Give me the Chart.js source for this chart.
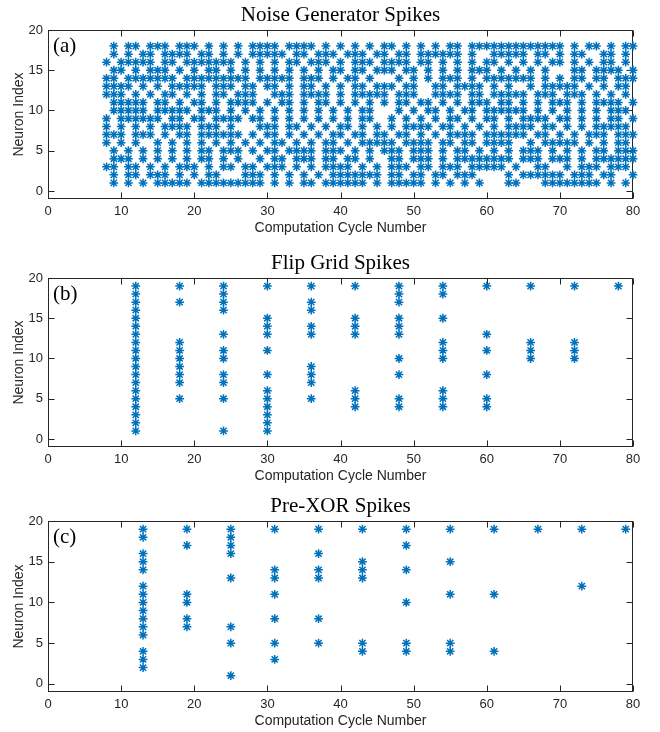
<!DOCTYPE html>
<html>
<head>
<meta charset="utf-8">
<script src="https://cdn.jsdelivr.net/npm/chart.js@4.4.1/dist/chart.umd.min.js"></script>
<style>
  body { margin: 0; background: #fff; }
  #wrap { position: relative; width: 660px; height: 732px; }
  canvas { position: absolute; left: 0; }
</style>
</head>
<body>
<div id="wrap">
  <canvas id="noiseChart" width="660" height="245" style="top:0px"></canvas>
  <canvas id="flipChart" width="660" height="245" style="top:248px"></canvas>
  <canvas id="xorChart" width="660" height="241" style="top:491px"></canvas>
</div>
<script>
// tick labels
var xTickValues = [0, 10, 20, 30, 40, 50, 60, 70, 80];
var yTickValues = [0, 5, 10, 15, 20];

// (a) noise generator: cycles where each neuron (1..18) spiked
var noiseCycles = [
  [9,11,13,15,16,17,18,19,21,22,23,24,25,26,27,28,29,31,33,35,36,38,39,40,41,42,43,45,47,48,49,50,51,53,55,57,59,63,64,68,69,70,71,72,73,74,75,77,79],
  [9,11,12,14,15,16,18,20,22,23,27,28,29,31,33,35,37,39,40,41,42,43,44,45,47,48,50,51,53,54,56,57,58,63,65,66,67,68,69,70,72,73,74,76,77,80],
  [8,9,11,12,14,16,18,19,20,22,24,25,27,28,30,31,32,34,36,38,39,40,41,43,45,47,48,49,51,52,54,55,56,58,59,60,61,62,64,67,68,71,73,74,75,77,78,79],
  [9,10,11,13,15,17,19,21,22,24,26,29,31,32,34,35,36,38,39,41,42,44,47,48,50,51,52,54,56,57,58,59,60,61,62,63,65,66,67,69,70,71,73,75,76,77,78,79,80],
  [9,11,13,15,17,19,21,22,24,25,26,28,30,31,33,34,35,36,38,39,40,42,44,46,47,48,50,51,52,54,56,57,59,61,63,65,66,67,69,71,73,75,76,78,79,80],
  [8,10,12,15,17,19,21,23,25,27,29,31,32,34,36,38,39,41,43,44,45,46,47,49,50,51,52,54,55,57,58,60,61,62,63,66,68,69,70,71,72,74,76,78,79],
  [8,9,10,12,13,14,16,18,19,21,22,23,24,25,26,28,30,31,33,35,37,39,40,42,43,45,46,48,49,51,53,55,56,57,58,60,61,62,63,64,65,67,68,70,72,74,75,76,78,79,80],
  [8,10,12,14,16,17,18,19,21,22,23,25,29,30,31,33,34,36,38,40,41,43,45,47,49,50,51,52,54,55,57,59,61,63,64,65,66,68,69,71,73,75,76,77,78,79],
  [8,10,11,12,13,14,15,17,18,20,21,23,24,25,26,28,29,31,33,35,37,39,41,43,44,47,49,51,53,55,56,58,60,61,63,65,66,67,68,70,71,73,75,77,78,80],
  [9,10,11,12,13,15,16,17,18,19,21,22,23,25,27,29,31,33,35,37,39,41,43,44,48,50,52,53,55,57,58,60,61,62,63,64,65,67,69,71,73,75,77,78,79],
  [9,10,11,12,13,15,16,18,20,21,23,25,26,27,28,30,32,33,35,37,38,40,42,44,46,48,49,51,52,54,56,58,59,60,62,63,65,67,69,70,71,73,75,76,77,78,80],
  [8,9,10,12,14,16,17,19,21,23,24,26,27,28,31,32,33,35,36,37,38,40,42,43,44,45,46,48,49,50,53,54,55,56,58,59,61,62,63,64,65,67,68,69,71,72,73,75,77,79],
  [8,9,10,11,13,15,17,18,19,20,21,23,24,25,27,28,30,31,33,35,36,38,40,42,43,45,46,47,49,50,53,54,56,57,58,59,61,63,66,68,69,70,71,72,74,76,78,79],
  [8,9,11,12,13,14,15,16,17,19,20,21,22,23,24,25,26,27,29,30,31,32,33,35,36,37,39,41,42,44,48,50,52,54,55,56,58,60,61,62,63,64,65,66,68,70,72,73,75,76,78,79,80],
  [9,10,12,14,15,16,18,20,22,23,25,27,29,31,33,35,37,39,40,42,43,45,46,47,49,50,52,54,56,58,59,60,62,64,66,68,72,73,75,76,77,78,80],
  [8,10,11,12,13,14,16,17,19,20,21,22,23,24,25,27,29,31,33,34,36,37,38,40,42,43,44,46,47,48,49,51,52,54,56,58,60,61,63,65,67,69,70,72,74,76,77,79],
  [9,11,13,14,16,17,18,19,21,22,24,26,28,29,30,31,32,34,35,37,38,39,41,42,43,45,46,48,49,51,52,53,54,55,56,58,61,62,63,64,65,67,68,70,72,73,76,77,79],
  [9,11,12,14,15,16,18,19,20,22,24,26,28,29,30,31,33,34,35,36,38,40,42,44,46,47,49,51,53,55,56,58,59,60,61,62,63,64,65,66,67,68,69,70,72,74,75,77,79,80]
];

// (b) flip grid: cycle columns and the neurons firing in each
var flipCycles = [12, 18, 24, 30, 36, 42, 48, 54, 60, 66, 72, 78];
var flipNeurons = [
  [1,2,3,4,5,6,7,8,9,10,11,12,13,14,15,16,17,18,19],
  [5,7,8,9,10,11,12,17,19],
  [1,5,7,8,10,11,13,16,17,18,19],
  [1,2,3,4,5,6,8,11,13,14,15,19],
  [5,7,8,9,13,14,16,17,19],
  [4,5,6,13,14,15,19],
  [4,5,8,10,13,14,15,17,18,19],
  [4,5,6,10,11,12,15,18,19],
  [4,5,8,11,13,19],
  [10,11,12,19],
  [10,11,12,19],
  [19]
];

// (c) pre-XOR
var xorCycles = [13, 19, 25, 31, 37, 43, 49, 55, 61, 67, 73, 79];
var xorNeurons = [
  [2,3,4,6,7,8,9,10,11,12,14,15,16,18,19],
  [7,8,10,11,17,19],
  [1,5,7,13,16,17,18,19],
  [3,5,8,11,13,14,19],
  [5,8,13,14,16,19],
  [4,5,13,14,15,19],
  [4,5,10,14,17,19],
  [4,5,11,15,19],
  [4,11,19],
  [19],
  [12,19],
  [19]
];

var noisePoints = [];
noiseCycles.forEach(function (cycles, i) {
  cycles.forEach(function (c) { noisePoints.push({x: c, y: i + 1}); });
});

function columnPoints(cycles, neurons) {
  var pts = [];
  cycles.forEach(function (c, i) {
    neurons[i].forEach(function (n) { pts.push({x: c, y: n}); });
  });
  return pts;
}

var axisColor = '#262626';

// box, inward ticks, title and panel letter (matlab look)
var panelPlugin = {
  id: 'panelText',
  beforeDatasetsDraw: function (chart) {
    var ctx = chart.ctx, a = chart.chartArea;
    var xs = chart.scales.x, ys = chart.scales.y;
    var L = Math.round(a.left) + 0.5, R = Math.round(a.right) - 0.5;
    var T = Math.round(a.top) + 0.5, B = Math.round(a.bottom) - 0.5;
    ctx.save();
    ctx.strokeStyle = axisColor;
    ctx.lineWidth = 1;
    ctx.strokeRect(L, T, R - L, B - T);
    ctx.beginPath();
    xTickValues.forEach(function (v) {
      var px = Math.round(xs.getPixelForValue(v)) + 0.5;
      ctx.moveTo(px, B); ctx.lineTo(px, B - 6);
      ctx.moveTo(px, T); ctx.lineTo(px, T + 6);
    });
    yTickValues.forEach(function (v) {
      var py = Math.round(ys.getPixelForValue(v)) + 0.5;
      ctx.moveTo(L, py); ctx.lineTo(L + 6, py);
      ctx.moveTo(R, py); ctx.lineTo(R - 6, py);
    });
    ctx.stroke();
    ctx.restore();
  },
  afterDraw: function (chart, args, opts) {
    var ctx = chart.ctx, a = chart.chartArea;
    ctx.save();
    ctx.fillStyle = '#000';
    ctx.font = '21px "Liberation Serif"';
    ctx.textBaseline = 'middle';
    ctx.textAlign = 'center';
    ctx.fillText(opts.title, (a.left + a.right) / 2, a.top - 15);
    ctx.textAlign = 'left';
    ctx.fillText(opts.tag, a.left + 5, a.top + 16);
    ctx.restore();
  }
};

function makeSpikeChart(id, title, tag, points, plotH) {
  var canvas = document.getElementById(id);
  return new Chart(canvas, {
    type: 'scatter',
    data: {
      datasets: [{
        data: points,
        pointStyle: 'star',
        pointRadius: 4.4,
        pointBorderWidth: 1.5,
        borderColor: '#0072BD',
        backgroundColor: '#0072BD',
        clip: false
      }]
    },
    options: {
      responsive: false,
      animation: false,
      devicePixelRatio: 1,
      events: [],
      layout: {
        padding: {top: 30, right: 27, left: 0, bottom: canvas.height - 30 - plotH - 38}
      },
      plugins: {
        legend: {display: false},
        tooltip: {enabled: false},
        panelText: {title: title, tag: tag}
      },
      scales: {
        x: {
          type: 'linear',
          min: 0,
          max: 80,
          grid: {display: false, drawTicks: false},
          border: {display: false},
          ticks: {color: axisColor, font: {family: 'Liberation Sans', size: 13}, padding: 5, maxRotation: 0},
          afterBuildTicks: function (s) { s.ticks = xTickValues.map(function (v) { return {value: v}; }); },
          afterFit: function (s) { s.height = 38; },
          title: {display: true, text: 'Computation Cycle Number', color: axisColor,
                  font: {family: 'Liberation Sans', size: 14}, padding: 0}
        },
        y: {
          type: 'linear',
          min: -1,
          max: 20,
          grid: {display: false, drawTicks: false},
          border: {display: false},
          ticks: {color: axisColor, font: {family: 'Liberation Sans', size: 13}, padding: 5},
          afterBuildTicks: function (s) { s.ticks = yTickValues.map(function (v) { return {value: v}; }); },
          afterFit: function (s) { s.width = 48; },
          title: {display: true, text: 'Neuron Index', color: axisColor,
                  font: {family: 'Liberation Sans', size: 14}, padding: {top: 11, bottom: 0}}
        }
      }
    },
    plugins: [panelPlugin]
  });
}

makeSpikeChart('noiseChart', 'Noise Generator Spikes', '(a)', noisePoints, 169);
makeSpikeChart('flipChart', 'Flip Grid Spikes', '(b)', columnPoints(flipCycles, flipNeurons), 169);
makeSpikeChart('xorChart', 'Pre-XOR Spikes', '(c)', columnPoints(xorCycles, xorNeurons), 171);
</script>
</body>
</html>
